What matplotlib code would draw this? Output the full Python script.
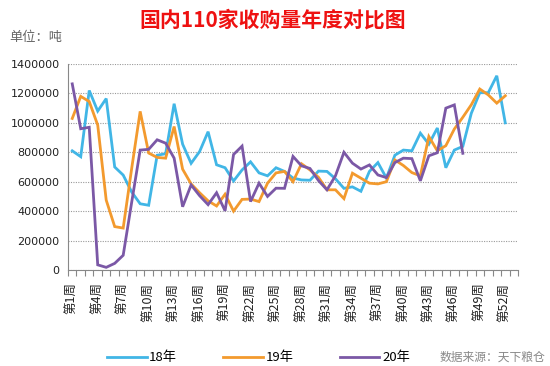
import matplotlib
matplotlib.use("Agg")
import matplotlib.pyplot as plt
import numpy as np

plt.rcParams['font.family'] = ['Noto Sans CJK SC', 'DejaVu Sans']

# weekly purchase volume, tonnes
weeks = ['第%d周' % i for i in range(1, 54)]
y18 = [810000, 770000, 1220000, 1080000, 1165000, 700000, 645000, 530000, 450000, 440000,
       780000, 790000, 1130000, 855000, 725000, 805000, 940000, 715000, 695000, 605000,
       680000, 735000, 660000, 640000, 695000, 670000, 625000, 612000, 610000, 672000,
       670000, 620000, 555000, 565000, 535000, 670000, 730000, 625000, 780000, 815000,
       810000, 930000, 855000, 965000, 695000, 815000, 840000, 1065000, 1205000, 1205000,
       1320000, 1000000]
y19 = [1030000, 1180000, 1145000, 985000, 475000, 295000, 285000, 690000, 1078000, 795000,
       765000, 760000, 975000, 685000, 585000, 525000, 470000, 435000, 515000, 400000,
       480000, 482000, 465000, 590000, 660000, 670000, 600000, 722000, 680000, 630000,
       545000, 545000, 485000, 658000, 624000, 590000, 585000, 600000, 748000, 710000,
       662000, 640000, 907000, 810000, 845000, 958000, 1038000, 1123000, 1230000, 1190000,
       1134000, 1184000]
y20 = [1265000, 960000, 970000, 35000, 18000, 45000, 100000, 460000, 815000, 820000,
       885000, 862000, 760000, 430000, 578000, 505000, 444000, 525000, 402000, 785000,
       842000, 465000, 590000, 500000, 556000, 555000, 772000, 708000, 690000, 608000,
       545000, 640000, 800000, 726000, 686000, 714000, 646000, 628000, 730000, 760000,
       757000, 606000, 776000, 797000, 1100000, 1122000, 793000]
series = [('18年', y18, '#41b6e6'), ('19年', y19, '#f39a2e'), ('20年', y20, '#7b58a6')]

fig = plt.figure(figsize=(5.5, 3.66), dpi=100)
ax = fig.add_axes([68 / 550, 96 / 366, 450 / 550, 206 / 366])

for name, vals, col in series:
    ax.plot(np.arange(len(vals)), vals, color=col, lw=2.0, label=name, solid_joinstyle='miter')

ax.set_xlim(-0.5, len(weeks) - 0.5)
ax.set_ylim(0, 1400000)
ax.set_yticks(np.arange(0, 1400001, 200000))
ax.set_yticklabels(['%d' % v for v in np.arange(0, 1400001, 200000)],
                   fontsize=8, color='#222222', family='DejaVu Sans')
ax.yaxis.grid(True, ls=(0, (1, 1.2)), color='#9a9a9a', lw=0.8)
ax.set_axisbelow(True)

pos = np.arange(0, 52, 3)
ax.set_xticks(pos)
ax.set_xticklabels([weeks[i] for i in pos], rotation=90, fontsize=9, color='#222222')
ax.set_xticks(np.arange(-0.5, len(weeks)), minor=True)
ax.tick_params(axis='x', which='major', length=0, pad=9)
ax.tick_params(axis='x', which='minor', length=4, color='#888888', width=0.8)
ax.tick_params(axis='y', length=0, pad=6)

for s in ['top', 'right']:
    ax.spines[s].set_visible(False)
ax.spines['left'].set_color('#888888')
ax.spines['bottom'].set_color('#888888')

fig.text(0.495, 0.945, '国内110家收购量年度对比图', ha='center', va='center',
         fontsize=15, fontweight='bold', color='#ee1111')
fig.text(0.016, 0.898, '单位：吨', ha='left', va='center', fontsize=9.5, color='#666666')
fig.text(0.992, 0.006, '数据来源：天下粮仓', ha='right', va='bottom', fontsize=8.5,
         color='#888888', style='italic')

fig.legend(loc='center', bbox_to_anchor=(0.47, 0.022), ncol=3, frameon=False,
           fontsize=9.5, handlelength=3.0, columnspacing=3.5, handletextpad=0.2)

plt.savefig('out.png', dpi=100)
